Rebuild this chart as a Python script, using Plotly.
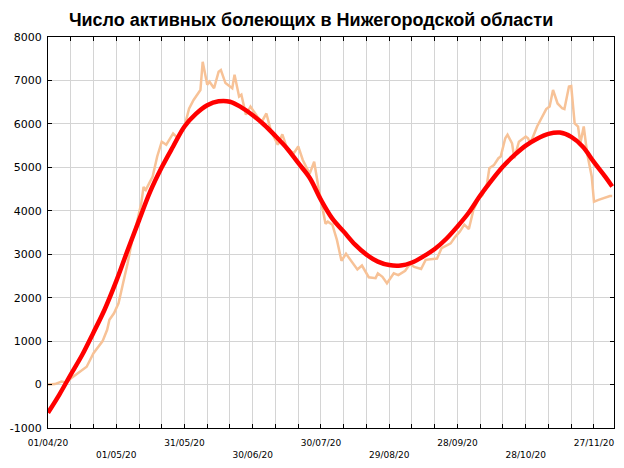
import pandas as pd
import plotly.graph_objects as go

START = pd.Timestamp("2020-04-01")

# raw daily series (light line): day offset from 01/04/20, active cases
raw_day = [0, 3, 6, 8, 10, 13, 17, 20, 24, 26, 27, 29, 31, 33, 35, 37, 39, 41, 42, 43,
           46, 48, 50, 52, 55, 57, 60, 62, 64, 67, 68, 70, 71, 73, 75, 76, 78, 81, 82, 84,
           85, 87, 89, 92, 94, 96, 98, 101, 103, 105, 108, 110, 112, 115, 117, 119, 122, 123, 125, 127,
           129, 131, 133, 136, 138, 141, 144, 145, 147, 149, 152, 154, 157, 159, 161, 164, 166, 169, 171, 173,
           175, 177, 179, 181, 183, 185, 187, 189, 191, 193, 194, 196, 198, 199, 201, 202, 204, 205, 207, 210,
           211, 212, 215, 217, 219, 220.5, 222, 224, 226, 227, 229, 230, 231.5, 233, 234, 235.5, 237, 239, 240, 242,
           245, 247, 248]
raw_val = [0, 10, 70, 50, 140, 260, 410, 720, 1000, 1260, 1490, 1640, 1870, 2330, 2790, 3330, 3710, 4170, 4550, 4480,
           4790, 5250, 5590, 5520, 5780, 5670, 5940, 6350, 6550, 6780, 7430, 6900, 6970, 6820, 7200, 7240, 6940, 6820, 7130, 6630,
           6670, 6210, 6400, 6170, 6050, 6240, 5840, 5520, 5760, 5450, 5320, 5480, 5170, 4850, 5130, 4500, 3700, 3750, 3680, 3330,
           2850, 3010, 2870, 2650, 2740, 2470, 2450, 2560, 2480, 2330, 2560, 2520, 2620, 2770, 2710, 2660, 2870, 2890, 2900, 3140,
           3200, 3250, 3400, 3520, 3680, 3580, 4020, 4250, 4360, 4630, 4980, 5050, 5210, 5250, 5670, 5750, 5550, 5210, 5590, 5710,
           5670, 5550, 5940, 6130, 6340, 6400, 6780, 6470, 6360, 6340, 6860, 6870, 6010, 5940, 5550, 5940, 5320, 4790, 4210, 4250,
           4310, 4340, 4340]

# smoothed trend (thick red line)
trend_day = [0, 5, 10, 15, 20, 25, 30, 35, 40, 45, 50, 55, 60, 65, 70, 75, 80, 85, 90, 95,
             100, 105, 110, 115, 120, 125, 130, 135, 140, 145, 150, 155, 160, 165, 170, 175, 180, 185, 190, 195,
             200, 205, 210, 215, 220, 225, 230, 235, 240, 245, 248]
trend_val = [-650, -230, 230, 680, 1200, 1740, 2380, 3090, 3780, 4450, 5000, 5480, 5940, 6230, 6430, 6520, 6510, 6380, 6200, 5980,
             5720, 5440, 5100, 4760, 4250, 3820, 3520, 3220, 2990, 2830, 2750, 2740, 2810, 2950, 3120, 3350, 3640, 3960, 4350, 4700,
             5020, 5280, 5500, 5660, 5770, 5800, 5700, 5480, 5120, 4780, 4560]

tick_labels = ["01/04/20", "01/05/20", "31/05/20", "30/06/20", "30/07/20",
               "29/08/20", "28/09/20", "28/10/20", "27/11/20"]
y_ticks = [-1000, 0, 1000, 2000, 3000, 4000, 5000, 6000, 7000, 8000]
y_tick_labels = ["-1000", "0", "1000", "2000", "3000", "4000", "5000", "6000", "7000", "8000"]

to_dates = lambda d: START + pd.to_timedelta(d, unit="D")

# grid every 10 days, a label every 30 days, every other label on a second row
grid_days = list(range(0, 241, 10))
tickvals = to_dates(grid_days)
ticktext = []
for i in range(len(grid_days)):
    if i % 3:
        ticktext.append("")
    else:
        k = i // 3
        ticktext.append(tick_labels[k] if k % 2 == 0 else "<br>" + tick_labels[k])

fig = go.Figure()
fig.add_trace(go.Scatter(x=to_dates(raw_day), y=raw_val, mode="lines",
                         line=dict(color="#F7C297", width=2.5), showlegend=False))
fig.add_trace(go.Scatter(x=to_dates(trend_day), y=trend_val, mode="lines",
                         line=dict(color="#FF0000", width=4.5, shape="spline", smoothing=1),
                         showlegend=False))

axis_common = dict(showline=True, linecolor="black", linewidth=1, mirror="ticks",
                   ticks="inside", ticklen=4, tickcolor="black", automargin=False,
                   showgrid=True, gridcolor="#D4D4D4", gridwidth=1, zeroline=False)

# page body keeps an 8px margin, so the figure is sized 8px smaller each way
fig.update_layout(
    width=616, height=460,
    margin=dict(l=40, r=10, t=29, b=40),
    paper_bgcolor="white", plot_bgcolor="white",
    title=dict(text="<b>Число активных болеющих в Нижегородской области</b>",
               x=0.492, xanchor="center", y=0.974, yanchor="middle",
               font=dict(family="Liberation Sans, Arial", size=18, color="black")),
    xaxis=dict(type="date", range=[to_dates(0), to_dates(248.8)],
               tickmode="array", tickvals=tickvals, ticktext=ticktext,
               tickfont=dict(family="DejaVu Sans", size=9, color="black"),
               tickangle=0, ticklabeloverflow="allow", ticklabelstandoff=6, **axis_common),
    yaxis=dict(range=[-1000, 8000], tickmode="array", tickvals=y_ticks, ticktext=y_tick_labels,
               tickfont=dict(family="DejaVu Sans", size=11, color="black"),
               ticklabelstandoff=3, **axis_common),
)

fig.write_html("out.html")
